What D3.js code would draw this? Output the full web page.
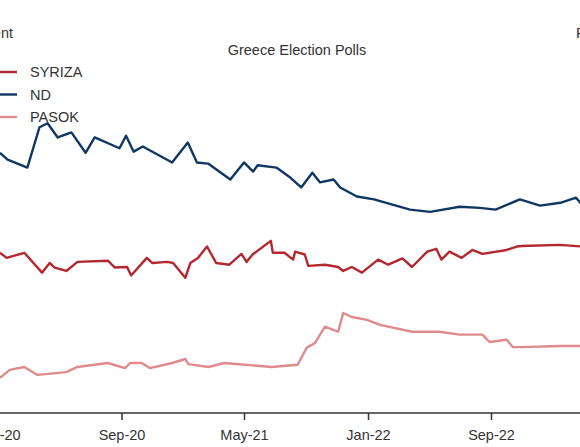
<!DOCTYPE html>
<html><head><meta charset="utf-8">
<script src="https://cdn.jsdelivr.net/npm/d3@7"></script>
<style>body{margin:0;background:#fff}svg{display:block}text{font-family:"Liberation Sans",Arial,sans-serif;fill:#333}</style>
</head><body>
<svg id="c" width="580" height="447"></svg>
<script>
const ndDates=["2020-01-05","2020-01-20","2020-02-28","2020-03-23","2020-04-08","2020-04-28","2020-05-25","2020-06-22","2020-07-10","2020-08-28","2020-09-10","2020-09-25","2020-10-13","2020-12-10","2021-01-10","2021-01-28","2021-02-19","2021-04-04","2021-05-01","2021-05-19","2021-05-28","2021-07-04","2021-08-01","2021-08-22","2021-09-13","2021-09-28","2021-10-25","2021-11-07","2021-12-10","2022-01-13","2022-03-25","2022-05-04","2022-07-01","2022-08-10","2022-09-10","2022-10-28","2022-12-07","2023-01-16","2023-02-16","2023-03-01"];
const ndValues=[45.1,43.9,42.5,49.6,50.3,47.8,48.7,45.1,47.8,45.9,48.1,45.3,46.2,43.4,46.9,43.4,43.2,40.4,43.4,41.8,42.9,42.5,40.7,39.0,41.6,39.9,40.4,39.0,37.4,36.9,35.1,34.7,35.6,35.4,35.1,36.9,35.8,36.3,37.2,35.8];
const syrizaDates=["2020-01-05","2020-01-18","2020-02-22","2020-03-28","2020-04-12","2020-04-22","2020-05-15","2020-06-06","2020-08-05","2020-08-19","2020-09-12","2020-09-20","2020-10-21","2020-11-01","2020-11-30","2020-12-12","2021-01-05","2021-01-15","2021-01-30","2021-02-17","2021-03-07","2021-04-02","2021-04-26","2021-05-06","2021-05-18","2021-06-23","2021-06-27","2021-07-20","2021-08-06","2021-08-10","2021-08-29","2021-09-05","2021-10-08","2021-11-03","2021-11-13","2021-11-30","2021-12-20","2022-01-21","2022-02-10","2022-03-10","2022-03-29","2022-04-28","2022-05-16","2022-05-26","2022-06-11","2022-07-05","2022-07-26","2022-08-15","2022-10-02","2022-10-22","2022-11-01","2023-01-15","2023-02-28"];
const syrizaValues=[27.5,26.6,27.5,24.0,25.7,24.9,24.3,25.9,26.1,24.9,25.0,23.5,26.6,25.7,25.9,25.7,23.1,25.7,26.6,28.6,25.7,25.4,27.3,25.9,27.2,29.6,27.5,27.5,26.3,27.7,27.2,25.2,25.4,25.0,24.3,25.0,24.0,26.3,25.4,26.5,25.0,27.7,28.2,26.3,27.7,26.6,28.0,27.3,28.0,28.6,28.7,28.9,28.6];
const pasokDates=["2020-01-05","2020-01-24","2020-02-22","2020-03-19","2020-05-15","2020-06-06","2020-08-05","2020-09-08","2020-09-18","2020-10-11","2020-10-27","2020-12-10","2021-01-05","2021-01-11","2021-02-20","2021-03-23","2021-06-24","2021-08-15","2021-09-02","2021-09-18","2021-10-08","2021-11-03","2021-11-13","2021-11-30","2021-12-30","2022-01-25","2022-03-29","2022-05-22","2022-07-01","2022-08-15","2022-08-29","2022-10-02","2022-10-14","2022-11-01","2023-01-15","2023-02-28"];
const pasokValues=[5.5,6.9,7.4,6.0,6.5,7.4,8.1,7.2,8.1,8.1,7.2,8.1,8.8,7.9,7.4,8.1,7.4,7.8,10.8,11.6,14.5,13.6,16.9,16.2,15.7,14.8,13.6,13.6,13.1,13.1,11.8,12.2,10.9,10.9,11.1,11.1];
const tickLabels=["Jan-20","Sep-20","May-21","Jan-22","Sep-22"];
const seriesNames=["SYRIZA","ND","PASOK"];
const colors=["#b3282e","#0e3862","#df8a8c"];

const p=d3.timeParse("%Y-%m-%d"), tp=d3.timeParse("%b-%y");
const svg=d3.select("#c");
const x=d3.scaleTime().domain([p("2020-01-01"),p("2022-09-01")]).range([-2,491]);
const y=d3.scaleLinear().domain([0,72]).range([409,0]);
const series=[[syrizaDates,syrizaValues],[ndDates,ndValues],[pasokDates,pasokValues]];
const line=d3.line().x(d=>x(d[0])).y(d=>y(d[1]));
series.forEach((s,i)=>{
  const data=s[0].map((d,j)=>[p(d),s[1][j]]);
  svg.append("path").datum(data).attr("d",line).attr("fill","none")
    .attr("stroke",colors[i]).attr("stroke-width",2.4).attr("stroke-linejoin","round");
});
const ax=svg.append("g").attr("transform","translate(0,413)")
  .call(d3.axisBottom(x).tickValues(tickLabels.map(t=>tp(t))).tickFormat(d3.timeFormat("%b-%y")).tickSize(7).tickSizeOuter(0));
ax.select(".domain").attr("stroke","#333").attr("stroke-width",1.5).attr("d","M-10,0H600");
ax.selectAll(".tick line").attr("stroke","#333").attr("stroke-width",1.5);
ax.selectAll(".tick text").attr("font-size",14.5).attr("dy","1.15em").style("font-family","Liberation Sans, Arial");
svg.append("text").attr("x",297).attr("y",55).attr("text-anchor","middle").attr("font-size",14.5).text("Greece Election Polls");
svg.append("text").attr("x",13).attr("y",38).attr("text-anchor","end").attr("font-size",14.5).text("Percent");
svg.append("text").attr("x",576).attr("y",38).attr("font-size",14.5).text("Percent");
seriesNames.forEach((n,i)=>{
  const yy=72+i*22.5;
  svg.append("line").attr("x1",-10).attr("x2",17).attr("y1",yy).attr("y2",yy).attr("stroke",colors[i]).attr("stroke-width",2.4);
  svg.append("text").attr("x",30).attr("y",yy+5).attr("font-size",14.5).text(n);
});
</script>
</body></html>
